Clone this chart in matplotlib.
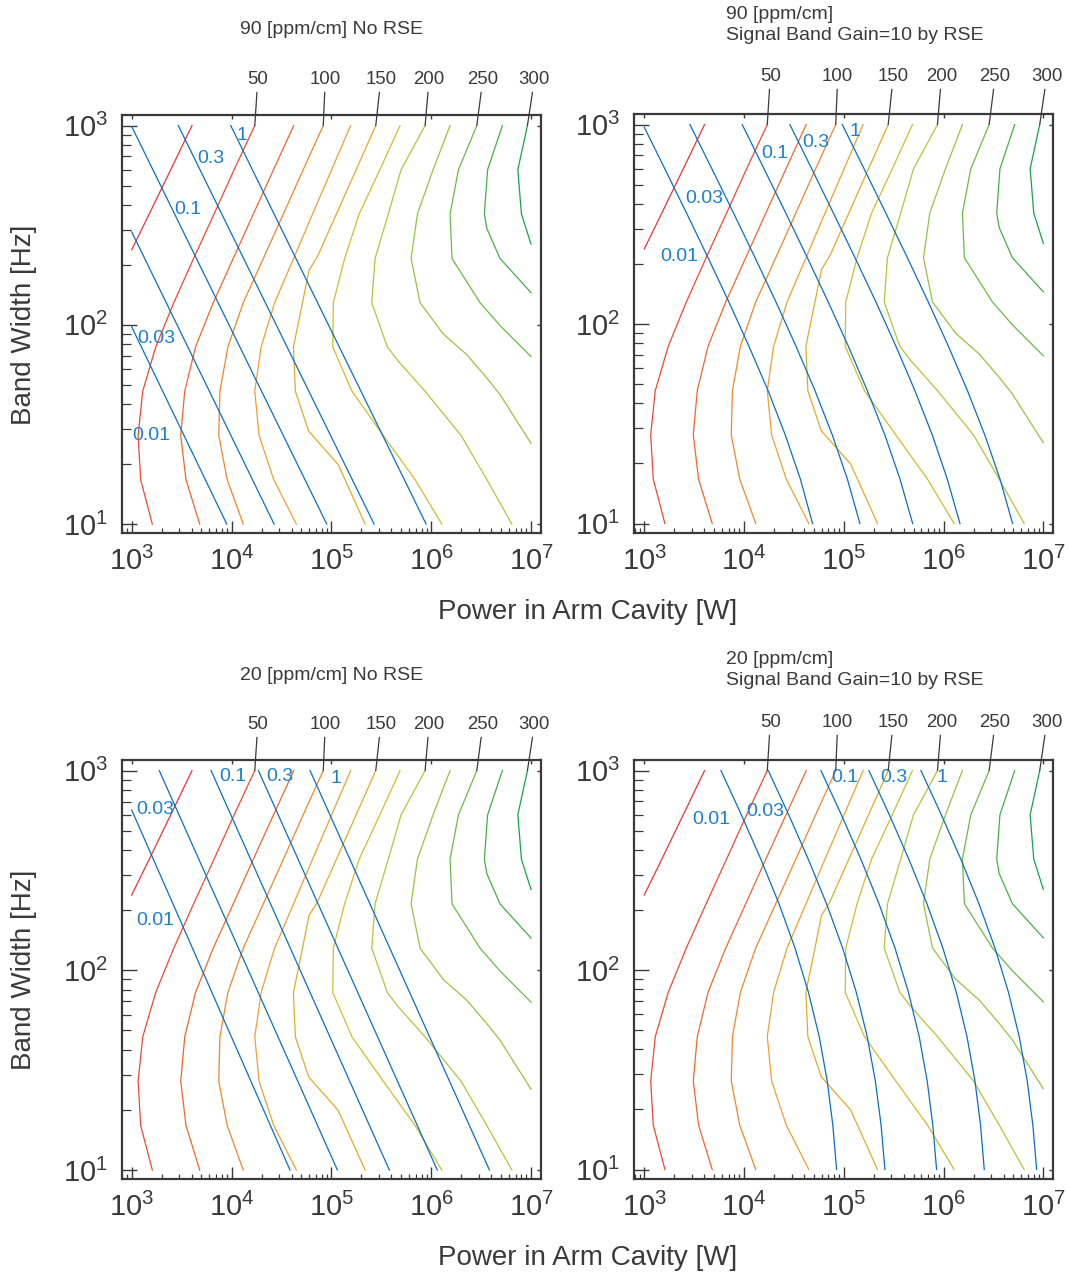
import matplotlib
matplotlib.use("Agg")
import numpy as np
import matplotlib.pyplot as plt
from matplotlib import font_manager as fm
from matplotlib.ticker import NullFormatter, LogLocator, FixedLocator, LogFormatterSciNotation

# ---------------------------------------------------------------- data
# bandwidth samples shared by most curves [Hz]
bw_grid = [10, 16.7, 27.8, 46.4, 77.4, 129, 215, 359, 599, 1000]

# coloured iso-lines (25 ... 300), bandwidth [Hz] and power [W] samples
t_levels = [25, 50, 75, 100, 125, 150, 175, 200, 225, 250, 275, 300]
t_colors = ["#e6353c", "#ec4a35", "#ef672d", "#f0862a", "#eea032", "#dcae27",
            "#cdbd2f", "#b5c33a", "#97c341", "#6cb947", "#45ae4b", "#14a451"]

t25_b = [238, 359, 599, 1000]
t25_p = [1000, 1496, 2455, 4020]
t50_b = bw_grid
t50_p = [1610, 1230, 1160, 1290, 1740, 2640, 4170, 6670, 10600, 17100]
t75_b = bw_grid
t75_p = [4800, 3500, 3100, 3400, 4360, 6560, 10400, 16500, 26300, 42000]
t100_b = bw_grid
t100_p = [13100, 9050, 7450, 7650, 9200, 13100, 20800, 33000, 52100, 83000]
t125_b = bw_grid
t125_p = [44600, 26500, 18900, 17100, 19800, 27000, 41800, 64700, 100500, 156000]
t150_b = [10, 19.9, 29.2, 46.4, 77.4, 129, 188, 220, 1000]
t150_p = [217800, 117000, 59400, 43600, 41700, 51400, 59800, 72600, 278600]
t175_b = bw_grid
t175_p = [1276000, 690000, 332000, 161000, 103300, 104700, 135800, 189700, 305500, 487500]
t200_b = [10, 16.7, 27.8, 46.4, 65.6, 77.4, 129, 215, 359, 599, 1000]
t200_p = [6427000, 3614000, 1995000, 869000, 469000, 364000, 254000, 274000,
          371500, 499000, 869000]
t225_b = [25.4, 44.6, 54.1, 70.8, 89.9, 129, 215, 360, 600, 1000]
t225_p = [1.0e7, 4.9e6, 3.606e6, 2.275e6, 1.324e6, 7.745e5, 6.295e5, 7.278e5,
          1.045e6, 1.545e6]
t250_b = [69.3, 99.1, 129, 215, 360, 600, 1000]
t250_p = [1.0e7, 4.898e6, 3.09e6, 1.618e6, 1.545e6, 1.875e6, 2.864e6]
t275_b = [145, 215, 305, 360, 600, 1000]
t275_p = [1.0e7, 4.898e6, 3.606e6, 3.412e6, 3.673e6, 5.164e6]
t300_b = [254, 360, 600, 1000]
t300_p = [1.0e7, 8.017e6, 7.379e6, 9.204e6]

t_curves = [(t25_b, t25_p), (t50_b, t50_p), (t75_b, t75_p), (t100_b, t100_p),
            (t125_b, t125_p), (t150_b, t150_p), (t175_b, t175_p), (t200_b, t200_p),
            (t225_b, t225_p), (t250_b, t250_p), (t275_b, t275_p), (t300_b, t300_p)]

# blue iso-lines, one set per panel
s_text = ["0.01", "0.03", "0.1", "0.3", "1"]

# 90 ppm/cm, no RSE
n90_b = [[10, 97.7], [10, 293], [10, 989], [10, 1000], [10, 1000]]
n90_p = [[8950, 1000], [26700, 1000], [89900, 1000], [268000, 2930], [889000, 9820]]
n90_lab_p = [1570, 1766, 3664, 6266, 12760]
n90_lab_b = [27.9, 85.1, 377, 685, 887]

# 90 ppm/cm, RSE
r90_b = [bw_grid[:-1] + [970]] + [bw_grid] * 4
r90_p = [[48600, 36700, 25900, 17400, 11200, 7050, 4360, 2660, 1610, 1000],
         [145000, 108600, 76700, 51400, 33200, 20900, 12900, 7870, 4770, 2870],
         [490000, 366000, 258000, 172000, 111000, 69800, 43100, 26300, 15900, 9590],
         [1460000, 1090000, 771000, 516000, 333000, 210000, 129500, 78900, 47800, 28800],
         [4920000, 3680000, 2590000, 1735000, 1118000, 703000, 434000, 264500, 160000, 96600]]
r90_lab_p = [2244, 3963, 20400, 52600, 129400]
r90_lab_b = [219, 425, 713, 809, 926]

# 20 ppm/cm, no RSE
n20_b = [[10, 635], [10, 1000], [10, 1000], [10, 1000], [10, 1000]]
n20_p = [[38500, 1000], [115000, 1890], [381000, 6240], [1150000, 18600], [3830000, 61200]]
n20_lab_p = [1738, 1710, 10420, 30130, 110700]
n20_lab_b = [178, 635, 929, 929, 918]

# 20 ppm/cm, RSE
r20_b = [bw_grid] * 5
r20_p = [[84700, 77600, 68200, 56700, 44200, 32400, 22400, 14760, 9420, 5870],
         [258400, 236400, 207100, 171600, 133400, 97300, 67100, 44100, 28100, 17500],
         [851000, 780000, 685500, 569800, 444700, 325700, 225200, 148500, 94700, 59000],
         [2558000, 2347000, 2064000, 1717000, 1342000, 983400, 680600, 449100, 286600, 178600],
         [8568000, 7853000, 6899000, 5733000, 4472000, 3274000, 2263000, 1492000, 952000, 593000]]
r20_lab_p = [4731, 16220, 102600, 320600, 955000]
r20_lab_b = [568, 622, 926, 926, 926]

panel_titles = ["90 [ppm/cm] No RSE",
                "90 [ppm/cm]\nSignal Band Gain=10 by RSE",
                "20 [ppm/cm] No RSE",
                "20 [ppm/cm]\nSignal Band Gain=10 by RSE"]
panel_blue = [(n90_b, n90_p, n90_lab_p, n90_lab_b),
              (r90_b, r90_p, r90_lab_p, r90_lab_b),
              (n20_b, n20_p, n20_lab_p, n20_lab_b),
              (r20_b, r20_p, r20_lab_p, r20_lab_b)]

x_decades = [1e3, 1e4, 1e5, 1e6, 1e7]
y_decades = [1e1, 1e2, 1e3]
x_label = "Power in Arm Cavity [W]"
y_label = "Band Width [Hz]"

# ---------------------------------------------------------------- style
W, H = 1068, 1278
ink = "#3a3a3a"
blue_line = "#0b6fc1"
blue_text = "#1f7fce"

avail = {f.name for f in fm.fontManager.ttflist}
tick_family = "Liberation Sans Narrow" if "Liberation Sans Narrow" in avail else "Liberation Sans"
plt.rcParams["font.family"] = ["Liberation Sans", "DejaVu Sans"]
plt.rcParams["mathtext.fontset"] = "custom"
plt.rcParams["mathtext.rm"] = tick_family

fig = plt.figure(figsize=(W / 100, H / 100), dpi=100)

# axes frames in pixels: left, top, right, bottom
frames = [(121.7, 115, 541, 533), (634.3, 114, 1053.3, 532.5),
          (121.7, 760, 541, 1179), (634.3, 760, 1053.3, 1178.5)]
title_xy = [(240, 29), (726, 25), (240, 675), (726, 670)]
lab_dy = [46, 48, 46, 48]
lab_dx = [3, 2, 5, 4, 6, 7]


def px_rect(l, t, r, b):
    return [l / W, 1 - b / H, (r - l) / W, (b - t) / H]


for i, ax_rect in enumerate(frames):
    ax = fig.add_axes(px_rect(*ax_rect))
    ax.set_xscale("log")
    ax.set_yscale("log")
    ax.set_xlim(10 ** 2.9, 10 ** 7.1)
    ax.set_ylim(10 ** 0.955, 10 ** 3.053)

    # coloured curves
    for (bs, ps), col in zip(t_curves, t_colors):
        ax.plot(ps, bs, color=col, lw=0.9, solid_joinstyle="miter")

    # blue curves with their values
    bl_b, bl_p, lab_p, lab_b = panel_blue[i]
    for bs, ps in zip(bl_b, bl_p):
        ax.plot(ps, bs, color=blue_line, lw=0.9)
    for s, lp, lb in zip(s_text, lab_p, lab_b):
        ax.text(lp, lb, s, color=blue_text, fontsize=14, ha="center", va="center")

    # level names above the frame, tied to the curve tops
    k = 0
    for lvl, (bs, ps) in zip(t_levels, t_curves):
        if lvl % 50:
            continue
        ax.annotate(str(lvl), xy=(ps[-1], bs[-1]), xytext=(lab_dx[k], lab_dy[i]),
                    textcoords="offset pixels", ha="center", va="center",
                    fontsize=13.4, color=ink, annotation_clip=False,
                    arrowprops=dict(arrowstyle="-", color=ink, lw=0.9,
                                    shrinkA=1, shrinkB=0))
        k += 1

    # frame and ticks
    for sp in ax.spines.values():
        sp.set_color(ink)
        sp.set_linewidth(1.6)
    ax.xaxis.set_major_locator(FixedLocator(x_decades))
    ax.yaxis.set_major_locator(FixedLocator(y_decades))
    ax.xaxis.set_minor_locator(LogLocator(base=10, subs=np.arange(2, 10), numticks=50))
    ax.yaxis.set_minor_locator(LogLocator(base=10, subs=np.arange(2, 10), numticks=50))
    ax.xaxis.set_major_formatter(LogFormatterSciNotation())
    ax.yaxis.set_major_formatter(LogFormatterSciNotation())
    ax.xaxis.set_minor_formatter(NullFormatter())
    ax.yaxis.set_minor_formatter(NullFormatter())
    ax.tick_params(which="both", direction="in", top=False, right=False,
                   colors=ink, labelcolor=ink, labelsize=21,
                   labelfontfamily=tick_family, pad=10)
    ax.tick_params(axis="x", which="major", length=8.5, width=1.0)
    ax.tick_params(axis="x", which="minor", length=3.6, width=0.9)
    ax.tick_params(axis="y", which="major", length=10.8, width=1.0)
    ax.tick_params(axis="y", which="minor", length=6.5, width=0.9)

    top = ax.secondary_xaxis("top")
    top.set_xticks(x_decades)
    top.tick_params(which="major", direction="in", length=3, width=1.0,
                    colors=ink, labeltop=False)
    top.tick_params(which="minor", length=0)
    top.xaxis.set_major_formatter(NullFormatter())
    for sp in top.spines.values():
        sp.set_visible(False)

    right = ax.secondary_yaxis("right")
    right.set_yticks(y_decades)
    right.tick_params(which="major", direction="in", length=3, width=1.0,
                      colors=ink, labelright=False)
    right.tick_params(which="minor", length=0)
    right.yaxis.set_major_formatter(NullFormatter())
    for sp in right.spines.values():
        sp.set_visible(False)

    tx, ty = title_xy[i]
    fig.text(tx / W, 1 - ty / H, panel_titles[i], fontsize=14, color=ink,
             ha="left", va="center", linespacing=1.35)

# shared axis titles
for yc in (612, 1258):
    fig.text(588 / W, 1 - yc / H, x_label, fontsize=20, color=ink,
             ha="center", va="center")
for yc in (325, 970):
    fig.text(24 / W, 1 - yc / H, y_label, fontsize=20, color=ink,
             ha="center", va="center", rotation=90)

fig.savefig("out.png", dpi=100)
